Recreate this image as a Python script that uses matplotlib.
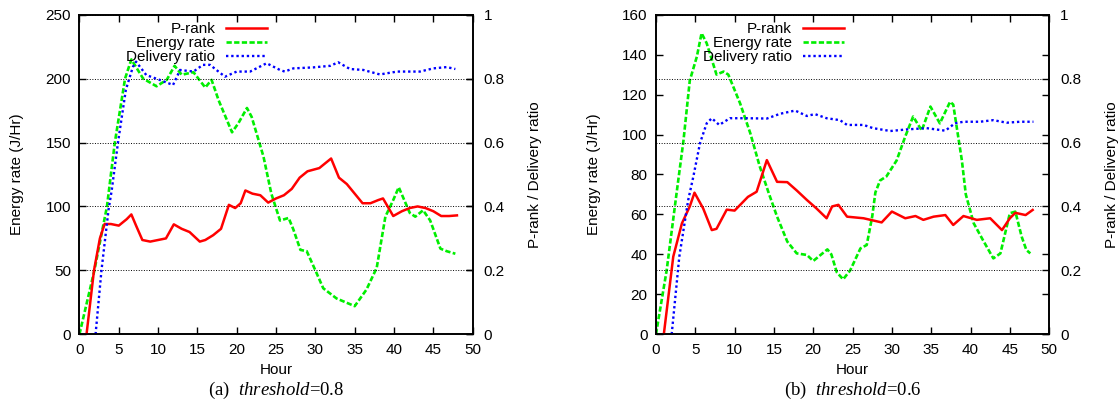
import matplotlib
matplotlib.use('Agg')
import matplotlib.pyplot as plt

plt.rcParams['font.family'] = ['Liberation Sans', 'DejaVu Sans']
plt.rcParams['mathtext.fontset'] = 'custom'
plt.rcParams['mathtext.it'] = 'Liberation Serif:italic'
plt.rcParams['mathtext.rm'] = 'Liberation Serif'

# (a) threshold=0.8
a_prank_h = [0.9, 1.85, 2.6, 3.2, 4, 5, 6, 6.6, 7.2, 8, 9, 10, 11, 12, 13, 14, 15.3, 16, 17, 18,
             19, 19.8, 20.5, 21.1, 22, 23, 24, 25, 26, 27, 28, 29, 30.5, 31.5, 32, 33, 34, 35, 36, 37,
             38, 38.6, 39.9, 41, 42, 43, 44, 45, 46, 47, 48]
a_prank = [0, 0.2, 0.3, 0.345, 0.345, 0.34, 0.36, 0.375, 0.34, 0.295, 0.29, 0.295, 0.3, 0.344, 0.33, 0.32, 0.29, 0.295, 0.31, 0.33,
           0.405, 0.395, 0.41, 0.45, 0.44, 0.435, 0.412, 0.425, 0.435, 0.455, 0.49, 0.51, 0.52, 0.54, 0.55, 0.49, 0.47, 0.44, 0.41, 0.41,
           0.42, 0.425, 0.37, 0.385, 0.395, 0.40, 0.395, 0.385, 0.37, 0.37, 0.372]
a_energy_h = [0, 1.9, 3.5, 4.5, 5.8, 6.6, 8.1, 9.8, 11.1, 12.1, 13, 14.5, 16, 16.8, 17.7, 19.4, 20.2, 21.3, 21.9, 23.4,
              24.4, 25.5, 26.6, 27.2, 28.1, 28.9, 30, 31, 32.7, 35, 36.5, 37.8, 38.9, 39.9, 40.6, 42, 42.7, 43.7, 44.6, 45.9,
              46.7, 47.8]
a_energy = [0, 50, 100, 150, 200, 215, 200, 194, 199, 210, 203, 205, 193, 199, 183, 158, 165, 177, 170, 139,
            110, 89, 91, 82, 66, 65, 50, 36, 28, 22, 35, 52, 92, 105, 115, 95, 92, 97, 89, 67,
            65, 63]
a_deliv_h = [2.05, 2.8, 3.7, 4.1, 4.9, 5.9, 6.8, 7.2, 8.5, 10.2, 11.9, 12.8, 14.5, 15.7, 16.6, 18.5, 20, 21.7, 23.8, 25.5,
             26.1, 27.2, 29.7, 31.9, 32.9, 34.4, 36.1, 38.2, 40.4, 43.3, 45, 46.7, 47.8]
a_deliv = [0, 0.2, 0.39, 0.45, 0.6, 0.765, 0.837, 0.853, 0.811, 0.796, 0.78, 0.827, 0.822, 0.843, 0.843, 0.806, 0.822, 0.822, 0.848, 0.827,
           0.822, 0.832, 0.835, 0.84, 0.851, 0.83, 0.827, 0.813, 0.822, 0.822, 0.832, 0.836, 0.83]

# (b) threshold=0.6
b_prank_h = [1.0, 2.2, 3.3, 4.3, 4.9, 6, 7.1, 7.7, 9, 10, 11.7, 12.8, 14.1, 15.4, 16.7, 17.9, 19.2, 20.4, 21.7, 22.4,
             23.2, 24.3, 26.4, 28.7, 30, 31.7, 33, 34, 35.3, 36.8, 37.8, 39.1, 40.8, 42.5, 44, 45, 45.7, 47, 47.9]
b_prank = [0, 0.243, 0.347, 0.4, 0.443, 0.394, 0.326, 0.33, 0.39, 0.387, 0.43, 0.446, 0.545, 0.477, 0.476, 0.45, 0.42, 0.394, 0.363, 0.4,
           0.405, 0.368, 0.363, 0.35, 0.384, 0.363, 0.37, 0.358, 0.368, 0.373, 0.342, 0.37, 0.358, 0.363, 0.326, 0.363, 0.38, 0.373, 0.389]
b_energy_h = [0, 1.36, 2.6, 3.5, 4.3, 5.2, 5.8, 6.45, 7.7, 8.6, 9.2, 10.7, 12, 13.2, 14.4, 15.4, 16.7, 17.9, 19.2, 20,
              21.8, 22.3, 23, 23.8, 24.7, 26, 26.8, 27.5, 27.9, 28.5, 29.3, 30.6, 31.7, 32.7, 33.8, 34.9, 36.1, 37.4, 37.8, 38.9,
              39.4, 40.4, 41.6, 42.9, 43.8, 45, 45.7, 46.5, 47.1, 47.6]
b_energy = [0, 32, 70, 97, 127, 139, 150.7, 145.7, 130, 131.5, 130, 115.6, 100.6, 84, 70, 58.9, 46.4, 40.5, 39.7, 36.7,
            42.5, 40, 31, 27.5, 32, 43, 44.7, 59, 71, 77, 79, 87, 99, 109, 102, 114, 105.6, 116.4, 115, 87,
            70, 55.6, 47, 38, 40.5, 60.6, 61.4, 48.9, 42.2, 40.5]
b_deliv_h = [2.0, 2.97, 4.1, 4.75, 5.6, 6.45, 7.1, 8.05, 9.4, 11.5, 14.1, 15.8, 17.7, 19.2, 20.2, 21.7, 23.4, 24.3, 26.4, 27.6,
             29.8, 31.9, 34.4, 36.8, 38, 39.1, 41.2, 42.9, 44.6, 46.3, 48]
b_deliv = [0, 0.243, 0.42, 0.493, 0.598, 0.66, 0.676, 0.655, 0.676, 0.676, 0.675, 0.69, 0.70, 0.683, 0.689, 0.676, 0.67, 0.655, 0.655, 0.645,
           0.636, 0.641, 0.645, 0.637, 0.66, 0.665, 0.665, 0.67, 0.662, 0.665, 0.665]

panels = [
    (0.0710, a_prank_h, a_prank, a_energy_h, a_energy, a_deliv_h, a_deliv, 250, 50, '(a)  $\\mathit{threshold}$=0.8'),
    (0.5862, b_prank_h, b_prank, b_energy_h, b_energy, b_deliv_h, b_deliv, 160, 20, '(b)  $\\mathit{threshold}$=0.6'),
]

fig = plt.figure(figsize=(11.19, 4.0), dpi=100)
for left, ph, pv, eh, ev, dh, dv, ymax, ystep, cap in panels:
    ax = fig.add_axes([left, 0.1643, 0.3514, 0.799])
    ax2 = ax.twinx()
    ax2.grid(axis='y', ls=':', color='black', lw=0.7)
    l1, = ax2.plot(ph, pv, color='#ff0000', lw=1.8, label='P-rank')
    l2, = ax.plot(eh, ev, color='#00ee00', lw=1.9, ls=(0, (2, 0.9)), label='Energy rate')
    l3, = ax2.plot(dh, dv, color='#0000ff', lw=1.7, ls=(0, (1, 1.2)), label='Delivery ratio')
    ax.set_xlim(0, 50)
    ax.set_ylim(0, ymax)
    ax2.set_ylim(0, 1)
    ax.set_xticks(range(0, 51, 5))
    ax.set_yticks(range(0, ymax + 1, ystep))
    ax2.set_yticks([0, 0.2, 0.4, 0.6, 0.8, 1])
    ax2.set_yticklabels(['0', '0.2', '0.4', '0.6', '0.8', '1'])
    ax.tick_params(direction='in', length=5, width=1, top=True, right=True, labelsize=11, pad=6)
    ax2.tick_params(direction='in', length=5, width=1, labelsize=11, pad=8)
    for a in (ax, ax2):
        for s in a.spines.values():
            s.set_linewidth(1.2)
    ax.set_xlabel('Hour', fontsize=11)
    ax.xaxis.set_label_coords(0.5, -0.09)
    ax.set_ylabel('Energy rate (J/Hr)', fontsize=11)
    ax.yaxis.set_label_coords(-0.14, 0.5)
    ax2.set_ylabel('P-rank / Delivery ratio', fontsize=11)
    ax2.yaxis.set_label_coords(1.141, 0.5)
    ax2.legend(handles=[l1, l2, l3], loc='upper right', bbox_to_anchor=(0.505, 1.01),
               frameon=False, markerfirst=False, fontsize=11, labelspacing=0.0,
               handlelength=2.7, handletextpad=0.7, borderpad=0.2)
    fig.text(left + 0.3514 / 2, 0.013, cap, ha='center', va='baseline', fontsize=13.5,
             family=['Liberation Serif', 'DejaVu Serif'])

fig.savefig('out.png', dpi=100)
